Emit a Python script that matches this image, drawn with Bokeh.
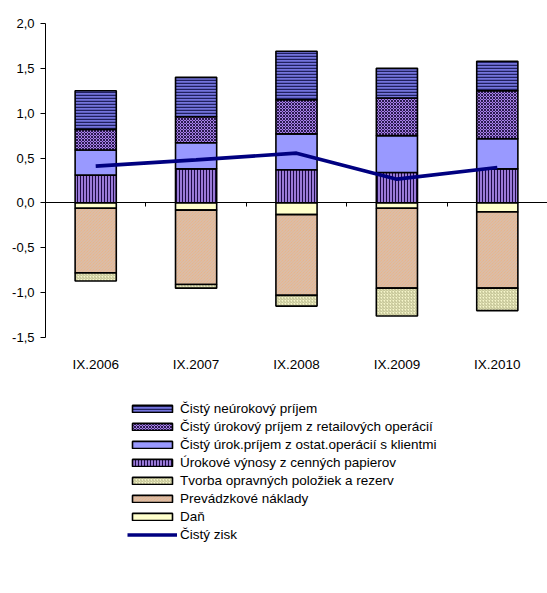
from bokeh.plotting import figure
from bokeh.layouts import column
from bokeh.models import (ColumnDataSource, LinearAxis, FixedTicker, Legend, LegendItem, Range1d)
from bokeh.transform import stack as stk
from bokeh.embed import file_html
from bokeh.resources import INLINE

cats = ["IX.2006", "IX.2007", "IX.2008", "IX.2009", "IX.2010"]
neurokovy = [0.43, 0.44, 0.54, 0.33, 0.33]
retail = [0.23, 0.29, 0.38, 0.42, 0.535]
ostat = [0.28, 0.29, 0.40, 0.41, 0.335]
cenne = [0.31, 0.38, 0.37, 0.34, 0.38]
dan = [-0.06, -0.08, -0.13, -0.06, -0.10]
prevadzkove = [-0.72, -0.83, -0.90, -0.89, -0.85]
tvorba = [-0.09, -0.04, -0.12, -0.31, -0.25]
zisk = [0.41, 0.48, 0.555, 0.265, 0.395]
y_ticks = [-1.5, -1.0, -0.5, 0.0, 0.5, 1.0, 1.5, 2.0]

names = {
    "neurokovy": "Čistý neúrokový príjem",
    "retail": "Čistý úrokový príjem z retailových operácií",
    "ostat": "Čistý úrok.príjem z ostat.operácií s klientmi",
    "cenne": "Úrokové výnosy z cenných papierov",
    "tvorba": "Tvorba opravných položiek a rezerv",
    "prevadzkove": "Prevádzkové náklady",
    "dan": "Daň",
    "zisk": "Čistý zisk",
}

xs = [i + 0.5 for i in range(len(cats))]
src = ColumnDataSource(dict(x=xs, neurokovy=neurokovy, retail=retail, ostat=ostat, cenne=cenne,
                            dan=dan, prevadzkove=prevadzkove, tvorba=tvorba, zisk=zisk))

FONT = "Liberation Sans"
FS = "13px"
FS_L = "13.5px"

p = figure(frame_width=502, frame_height=314, output_backend="svg", toolbar_location=None,
           x_range=Range1d(0, len(cats)), y_range=Range1d(-1.5, 2.0),
           min_border_left=45, min_border_top=23, min_border_right=0, min_border_bottom=0,
           x_axis_location=None)
p.grid.visible = False
p.outline_line_color = None

styles = {
    "cenne": dict(fill_color="#9a7ad8", hatch_pattern="vertical_line", hatch_color="#1c0c44",
                  hatch_scale=3, hatch_weight=1),
    "ostat": dict(fill_color="#9999ff"),
    "retail": dict(fill_color="#a780e8", hatch_pattern="diagonal_cross", hatch_color="#2a1a50",
                   hatch_scale=3, hatch_weight=1),
    "neurokovy": dict(fill_color="#7474dc", hatch_pattern="horizontal_line", hatch_color="#20205e",
                      hatch_scale=3, hatch_weight=1.5),
    "dan": dict(fill_color="#ffffcc"),
    "prevadzkove": dict(fill_color="#f0b27c", hatch_pattern="left_diagonal_line", hatch_color="#cdc4c4",
                        hatch_scale=3, hatch_weight=0.8),
    "tvorba": dict(fill_color="#f6f6cc", hatch_pattern="right_diagonal_line", hatch_color="#acac7c",
                   hatch_scale=3, hatch_weight=0.8),
}
BAR_W = 0.41
LINE = dict(line_color="#000080", line_width=3.6)

pos = ["cenne", "ostat", "retail", "neurokovy"]
neg = ["dan", "prevadzkove", "tvorba"]
for group in (pos, neg):
    for i, key in enumerate(group):
        below = group[:i]
        p.vbar(x="x", width=BAR_W, bottom=stk(*below) if below else 0, top=stk(*group[:i + 1]),
               source=src, line_color="black", line_width=1.6, **styles[key])

p.line(x="x", y="zisk", source=src, **LINE)

# y axis
p.yaxis.ticker = FixedTicker(ticks=y_ticks)
p.yaxis.major_label_overrides = {t: f"{t:.1f}".replace(".", ",") for t in y_ticks}
p.yaxis.major_label_text_font = FONT
p.yaxis.major_label_text_font_size = FS
p.yaxis.major_label_text_color = "black"
p.yaxis.axis_line_color = "black"
p.yaxis.major_tick_line_color = "black"
p.yaxis.major_tick_out = 5
p.yaxis.major_tick_in = 0
p.yaxis.minor_tick_line_color = None
p.yaxis.major_label_standoff = 6

# zero-line axis with ticks between categories (no labels)
zero_axis = LinearAxis(fixed_location=0, ticker=FixedTicker(ticks=list(range(1, len(cats)))),
                       major_label_text_color=None, major_label_text_font_size="1px",
                       major_label_standoff=0, major_tick_out=4, major_tick_in=0,
                       axis_line_color="black", major_tick_line_color="black",
                       minor_tick_line_color=None)
p.add_layout(zero_axis, "below")

# category label axis at bottom
lab_axis = LinearAxis(ticker=FixedTicker(ticks=xs),
                      major_label_overrides={x: c for x, c in zip(xs, cats)},
                      axis_line_color=None, major_tick_line_color=None, minor_tick_line_color=None,
                      major_label_text_font=FONT, major_label_text_font_size=FS_L,
                      major_label_text_color="black", major_label_standoff=13)
p.add_layout(lab_axis, "below")

# legend figure: proxy renderers without drawable points, only for the legend glyphs
q = figure(width=547, height=200, output_backend="svg", toolbar_location=None,
           x_range=Range1d(0, 1), y_range=Range1d(0, 1),
           min_border=0, x_axis_location=None, y_axis_location=None)
q.grid.visible = False
q.outline_line_color = None
proxy = ColumnDataSource(dict(x=[float("nan")], y=[float("nan")]))
leg_r = {}
for key in ["neurokovy", "retail", "ostat", "cenne", "tvorba", "prevadzkove", "dan"]:
    leg_r[key] = q.vbar(x="x", top="y", width=BAR_W, source=proxy,
                        line_color="black", line_width=1.6, **styles[key])
leg_r["zisk"] = q.line(x="x", y="y", source=proxy, **LINE)

order = ["neurokovy", "retail", "ostat", "cenne", "tvorba", "prevadzkove", "dan", "zisk"]
legend = Legend(items=[LegendItem(label=names[k], renderers=[leg_r[k]]) for k in order],
                location=(82, 31), orientation="vertical",
                glyph_width=50, glyph_height=9, label_height=18, spacing=0,
                label_text_font=FONT, label_text_font_size=FS_L, label_text_color="black",
                label_standoff=3, padding=0, margin=0, border_line_color=None,
                background_fill_alpha=0)
q.add_layout(legend, "center")

open("out.html", "w").write(file_html(column(p, q), INLINE))
